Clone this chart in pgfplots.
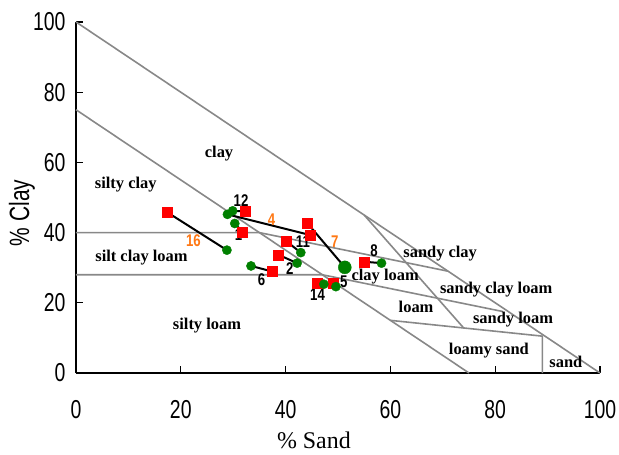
\documentclass[border=0pt]{standalone}
\usepackage{fontspec}
\setmainfont{Liberation Serif}
\newfontfamily\cond[FakeStretch=0.75]{Liberation Sans}
\newfontfamily\condb[FakeStretch=0.78]{Liberation Sans}
\usepackage{pgfplots}
\pgfplotsset{compat=1.18}
\definecolor{lgray}{RGB}{136,136,136}
\definecolor{dgreen}{RGB}{0,128,0}
\definecolor{lorange}{RGB}{255,120,20}
\tikzset{
  region/.style={font=\bfseries\fontsize{16.5}{16.5}\selectfont, inner sep=0pt},
  num/.style={font=\condb\bfseries\fontsize{17}{17}\selectfont, inner sep=0pt},
}
\begin{document}
\begin{tikzpicture}
\useasboundingbox (-76bp,-82bp) rectangle (543bp,373bp);
\begin{axis}[
  at={(0,0)}, anchor=south west,
  scale only axis, width=524bp, height=351bp,
  xmin=0, xmax=100, ymin=0, ymax=100,
  axis lines=left, axis line style={-, line width=1.3bp, black},
  xtick={0,20,...,100}, ytick={0,20,...,100},
  tick align=inside, major tick length=7bp, tick style={line width=1.2bp, black},
  /pgf/number format/assume math mode=true,
  xticklabel style={font=\cond\fontsize{26}{26}\selectfont, yshift=-24bp},
  yticklabel style={font=\cond\fontsize{26}{26}\selectfont, xshift=-7bp},
  xlabel={\% Sand},
  xlabel style={font=\fontsize{24}{24}\selectfont, at={(axis description cs:0.454,-0.191)}, anchor=center},
  ylabel={\% Clay},
  ylabel style={font=\cond\fontsize{28}{28}\selectfont, at={(axis description cs:-0.103,0.456)}, anchor=center},
  clip=false,
]
% texture class boundaries
\addplot[lgray, line width=1.6bp] coordinates {(0,100) (100,0)};
\addplot[lgray, line width=1.6bp] coordinates {(0,75) (75,0)};
\addplot[lgray, line width=1.6bp] coordinates {(0,40) (35,40) (71,29)};
\addplot[lgray, line width=1.6bp] coordinates {(0,28) (47,28) (81.5,17.5)};
\addplot[lgray, line width=1.6bp] coordinates {(60,15) (89,10.5) (89,0)};
\addplot[lgray, line width=1.6bp] coordinates {(55,45) (74,12.8)};
% connecting segments (red -> green)
\addplot[black, line width=2bp] coordinates {(31.8,40.1) (30.3,42.6)};
\addplot[black, line width=2bp] coordinates {(38.6,33.7) (42.2,31.3)};
\addplot[black, line width=2bp] coordinates {(44.7,39.3) (28.9,45.2)};
\addplot[black, line width=2bp] coordinates {(49.1,25.6) (49.6,24.6)};
\addplot[black, line width=2bp] coordinates {(37.5,28.9) (33.4,30.5)};
\addplot[black, line width=2bp] coordinates {(44.1,42.8) (51.3,30.1)};
\addplot[black, line width=2bp] coordinates {(55.0,31.7) (58.3,31.3)};
\addplot[black, line width=2bp] coordinates {(40.1,37.6) (42.9,34.3)};
\addplot[black, line width=2bp] coordinates {(32.3,46.0) (29.9,46.2)};
\addplot[black, line width=2bp] coordinates {(46.1,25.6) (47.3,25.3)};
\addplot[black, line width=2bp] coordinates {(17.4,45.8) (28.8,35.0)};
% red squares
\addplot[only marks, mark=square*, mark size=5bp, mark options={fill=red, draw=red}] coordinates {
 (31.8,40.1) (38.6,33.7) (44.7,39.3) (49.1,25.6) (37.5,28.9) (44.1,42.8)
 (55.0,31.7) (40.1,37.6) (32.3,46.0) (46.1,25.6) (17.4,45.8)};
% green circles
\addplot[only marks, mark=*, mark size=4.6bp, mark options={fill=dgreen, draw=dgreen}] coordinates {
 (30.3,42.6) (42.2,31.3) (28.9,45.2) (49.6,24.6) (33.4,30.5)
 (58.3,31.3) (42.9,34.3) (29.9,46.2) (47.3,25.3) (28.8,35.0)};
\addplot[only marks, mark=*, mark size=6.5bp, mark options={fill=dgreen, draw=dgreen}] coordinates {(51.3,30.1)};
% sample numbers
\node[num] at (axis cs:31.0,39.3) {1};
\node[num] at (axis cs:40.8,29.8) {2};
\node[num, text=lorange] at (axis cs:37.3,43.8) {4};
\node[num] at (axis cs:51.1,26.0) {5};
\node[num] at (axis cs:35.4,26.5) {6};
\node[num, text=lorange] at (axis cs:49.4,37.4) {7};
\node[num] at (axis cs:56.9,34.8) {8};
\node[num] at (axis cs:43.3,37.4) {11};
\node[num] at (axis cs:31.5,49.0) {12};
\node[num] at (axis cs:46.1,22.2) {14};
\node[num, text=lorange] at (axis cs:22.4,37.6) {16};
% class names
\node[region] at (axis cs:27.3,62.4) {clay};
\node[region] at (axis cs:9.5,53.6) {silty clay};
\node[region] at (axis cs:12.5,33.0) {silt clay loam};
\node[region] at (axis cs:25.0,13.4) {silty loam};
\node[region] at (axis cs:59.0,27.4) {clay loam};
\node[region] at (axis cs:69.5,33.9) {sandy clay};
\node[region] at (axis cs:80.2,23.9) {sandy clay loam};
\node[region] at (axis cs:64.9,18.8) {loam};
\node[region] at (axis cs:83.4,15.1) {sandy loam};
\node[region] at (axis cs:78.8,6.3) {loamy sand};
\node[region] at (axis cs:93.5,3.1) {sand};
\end{axis}
\end{tikzpicture}
\end{document}
